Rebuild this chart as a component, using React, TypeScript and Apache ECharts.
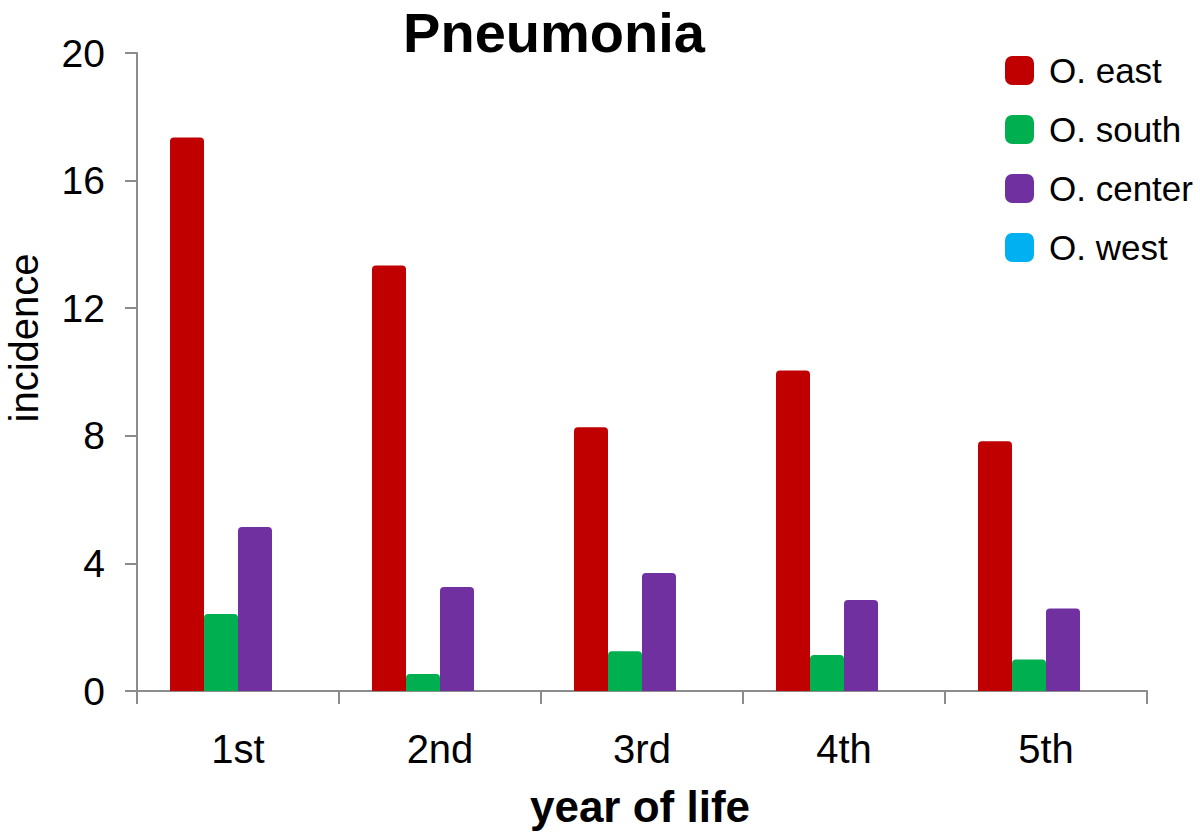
import React, { useEffect, useRef } from "react";
import * as echarts from "echarts";

const categories = ["1st", "2nd", "3rd", "4th", "5th"];
const seriesNames = ["O. east", "O. south", "O. center", "O. west"];
const eastValues = [17.35, 13.34, 8.27, 10.05, 7.83];
const southValues = [2.41, 0.53, 1.25, 1.13, 0.99];
const centerValues = [5.14, 3.26, 3.7, 2.85, 2.59];
const westValues = [0, 0, 0, 0, 0];
const yTicks = [0, 4, 8, 12, 16, 20];
const colors = ["#c00000", "#00b050", "#7030a0", "#00b0f0"];

const FONT = "'Liberation Sans', Arial, Helvetica, sans-serif";
const AXIS_COLOR = "#8c8c8c";

export default function App() {
  const ref = useRef<HTMLDivElement>(null);
  useEffect(() => {
    if (!ref.current) return;
    const chart = echarts.init(ref.current, undefined, { renderer: "svg" });
    const allValues = [eastValues, southValues, centerValues, westValues];
    chart.setOption({
      animation: false,
      backgroundColor: "#ffffff",
      textStyle: { fontFamily: FONT },
      grid: { left: 137, right: 53, top: 53, bottom: 141, containLabel: false },
      legend: {
        orient: "vertical",
        left: 1000,
        top: 48,
        itemWidth: 29,
        itemHeight: 29,
        itemGap: 24,
        icon: "roundRect",
        data: seriesNames,
        textStyle: { fontFamily: FONT, fontSize: 35, color: "#000", padding: [0, 0, 0, 10] },
      },
      xAxis: {
        type: "category",
        data: categories,
        axisLine: { lineStyle: { color: AXIS_COLOR, width: 2 } },
        axisTick: { show: true, length: 13, lineStyle: { color: AXIS_COLOR, width: 2 } },
        axisLabel: { fontFamily: FONT, fontSize: 40, color: "#000", margin: 38 },
        splitLine: { show: false },
      },
      yAxis: {
        type: "value",
        min: yTicks[0],
        max: yTicks[yTicks.length - 1],
        interval: yTicks[1] - yTicks[0],
        axisLine: { show: true, lineStyle: { color: AXIS_COLOR, width: 2 } },
        axisTick: { show: true, length: 12, lineStyle: { color: AXIS_COLOR, width: 2 } },
        axisLabel: { fontFamily: FONT, fontSize: 39, color: "#000", margin: 32 },
        splitLine: { show: false },
      },
      graphic: [
        {
          type: "text",
          x: 554,
          y: 32,
          style: {
            text: "Pneumonia",
            font: `bold 56px ${FONT}`,
            fill: "#000",
            align: "center",
            verticalAlign: "middle",
          },
        },
        {
          type: "text",
          x: 24,
          y: 338,
          rotation: Math.PI / 2,
          style: {
            text: "incidence",
            font: `40px ${FONT}`,
            fill: "#000",
            align: "center",
            verticalAlign: "middle",
          },
        },
        {
          type: "text",
          x: 640,
          y: 806,
          style: {
            text: "year of life",
            font: `bold 44px ${FONT}`,
            fill: "#000",
            align: "center",
            verticalAlign: "middle",
          },
        },
      ],
      series: seriesNames.map((name, i) => ({
        name,
        type: "bar",
        data: allValues[i],
        barWidth: 34,
        barGap: "0%",
        itemStyle: { color: colors[i], borderRadius: [4, 4, 0, 0] },
      })),
    });
    return () => chart.dispose();
  }, []);
  return <div ref={ref} style={{ width: 1200, height: 832, position: "absolute", left: 0, top: 0 }} />;
}
